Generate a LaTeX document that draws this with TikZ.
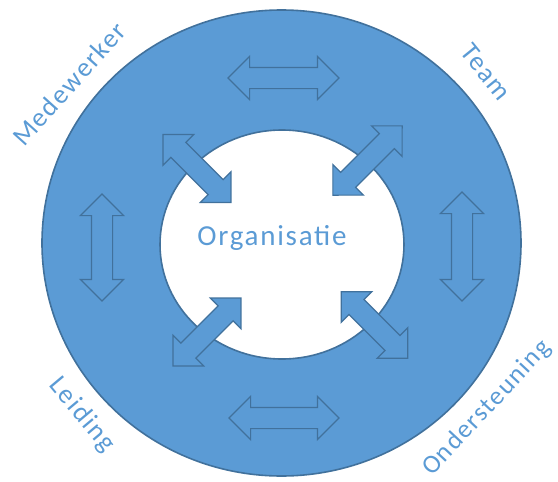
\documentclass[tikz,border=0pt]{standalone}
\usepackage{fontspec}
\setmainfont{Carlito}
\newfontfamily\spacedfont[LetterSpace=6]{Carlito}
\usetikzlibrary{shapes.arrows}

\definecolor{ringblue}{HTML}{5B9BD5}
\definecolor{edgeblue}{HTML}{41719C}

\tikzset{
    duoarrow/.style={double arrow, draw=edgeblue, line width=1.2pt, fill=ringblue,
        inner xsep=0pt, inner ysep=10pt, minimum width=0pt,
        double arrow head extend=11pt, double arrow tip angle=90, minimum height=#1},
    duoarrow/.default=108pt,
    ringlabel/.style={text=ringblue, font=\spacedfont\fontsize{27}{27}\selectfont, inner sep=0pt}
}

\begin{document}
\begin{tikzpicture}[x=1pt,y=-1pt]
    \useasboundingbox (0,0) rectangle (558,482);

    \coordinate (mid) at (281.5,243);
    \coordinate (hole) at (282,244.5);

    % ring
    \draw[draw=edgeblue, line width=1.6pt, fill=ringblue, even odd rule]
        (mid) ellipse [x radius=239.5pt, y radius=233pt]
        (hole) ellipse [x radius=122pt, y radius=114.5pt];

    \node[ringlabel, font=\spacedfont\fontsize{29}{29}\selectfont, anchor=base] (org) at (272,245) {Organisatie};

    % arrows in the ring
    \node[duoarrow=111pt] (atop) at (283.5,78) {};
    \node[duoarrow=110pt] (abot) at (284,418) {};
    \node[duoarrow=107pt, rotate=90] (aleft) at (102,247.5) {};
    \node[duoarrow=109pt, rotate=90] (aright) at (462,246.5) {};

    % arrows to the middle
    \node[duoarrow=96pt, rotate=-45] (aul) at (197,168.5) {};
    \node[duoarrow=98pt, rotate=45] (aur) at (367.5,160.5) {};
    \node[duoarrow=96pt, rotate=45] (all) at (207,332) {};
    \node[duoarrow=94pt, rotate=-45] (alr) at (374.5,325) {};

    \node[ringlabel, rotate=48] (medew) at (69,84) {Medewerker};
    \node[ringlabel, rotate=-51] (team) at (486,72) {Team};
    \node[ringlabel, rotate=-50] (leid) at (82,415) {Leiding};
    \node[ringlabel, font=\spacedfont\fontsize{26}{26}\selectfont, rotate=47] (onder) at (487,408) {Ondersteuning};
\end{tikzpicture}
\end{document}
